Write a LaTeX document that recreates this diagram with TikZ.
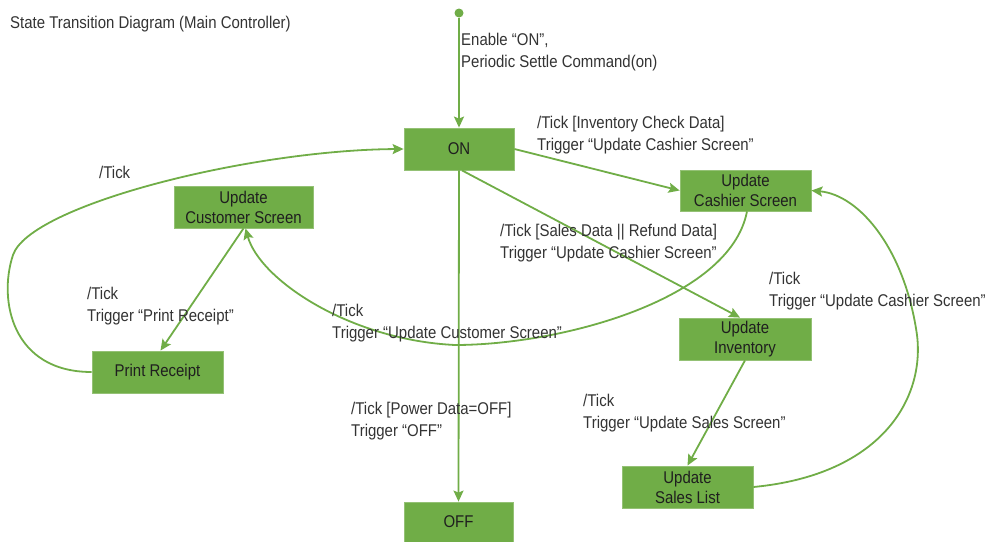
\documentclass[tikz,border=0pt]{standalone}
\usepackage{fontspec}
\setmainfont{Liberation Sans}[FakeStretch=0.88]
\usetikzlibrary{arrows.meta,calc}
\definecolor{gr}{HTML}{70AD47}
\definecolor{txt}{HTML}{333333}
\newcommand\lblfont{\fontsize{17}{21.5}\selectfont}
\newcommand\boxfont{\fontsize{17}{20}\selectfont}
\begin{document}
\begin{tikzpicture}[x=1pt,y=-1pt,
  state/.style={rectangle, fill=gr, draw=gr!75!white, line width=0.8pt, minimum height=42pt, inner sep=0pt, align=center, font=\boxfont, text=black!88},
  lbl/.style={anchor=north west, inner sep=0pt, align=left, text=txt, font=\lblfont},
  tr/.style={draw=gr, line width=1.8pt, -{Stealth[length=11pt,width=10pt,inset=2pt]}},
]
\useasboundingbox (0,0) rectangle (988,541);

% states
\node[state, minimum width=110pt] (on) at (459,149) {ON};
\node[state, minimum width=131pt, minimum height=41pt] (cash) at (745.5,190.5) {Update\\Cashier Screen};
\node[state, minimum width=139pt] (cust) at (243.5,207) {Update\\Customer Screen};
\node[state, minimum width=131pt] (pr) at (157.5,372) {Print Receipt};
\node[state, minimum width=109pt, minimum height=40pt] (off) at (458.5,522) {OFF};
\node[state, minimum width=132pt] (inv) at (745,339) {Update\\Inventory};
\node[state, minimum width=131pt] (sales) at (687.5,487) {Update\\Sales List};
\node[circle, fill=gr, minimum size=9pt, inner sep=0pt] (init) at (459,13) {};

% transitions
\draw[tr] (init) -- (on);
\draw[tr] (on.east) -- (cash.west);
\draw[tr] ([xshift=3pt]on.south) -- ([xshift=-5pt]inv.north);
\draw[tr] (on.south) -- (off.north);
\draw[tr] (cust.south) -- ([xshift=3pt]pr.north);
\draw[tr] ([xshift=1.5pt]cash.south) .. controls (730,300) and (560,345) .. (455,345)
          .. controls (350,340) and (260,280) .. ([xshift=2pt]cust.south);
\draw[tr] (inv.south) -- (sales.north);
\draw[tr] (sales.east) .. controls (880,475) and (925,400) .. (917,335)
          .. controls (905,250) and (860,195) .. (cash.east);
\draw[tr] (pr.west) .. controls (12,372) and (-2,300) .. (13,255)
          .. controls (30,205) and (250,150) .. (on.west);

% labels
\node[lbl] (title) at (10,15.5) {State Transition Diagram (Main Controller)};
\node[lbl] (lenable) at (461,33) {Enable “ON”,\\Periodic Settle Command(on)};
\node[lbl] (linv) at (537,116) {/Tick [Inventory Check Data]\\Trigger “Update Cashier Screen”};
\node[lbl] (ltick) at (99,166) {/Tick};
\node[lbl] (lsales) at (500,224) {/Tick [Sales Data || Refund Data]\\Trigger “Update Cashier Screen”};
\node[lbl] (lcash) at (769,272) {/Tick\\Trigger “Update Cashier Screen”};
\node[lbl] (lprint) at (87,287) {/Tick\\Trigger “Print Receipt”};
\node[lbl] (lcust) at (332,304) {/Tick\\Trigger “Update Customer Screen”};
\node[lbl] (loff) at (351,402) {/Tick [Power Data=OFF]\\Trigger “OFF”};
\node[lbl] (lss) at (583,394) {/Tick\\Trigger “Update Sales Screen”};
\end{tikzpicture}
\end{document}
